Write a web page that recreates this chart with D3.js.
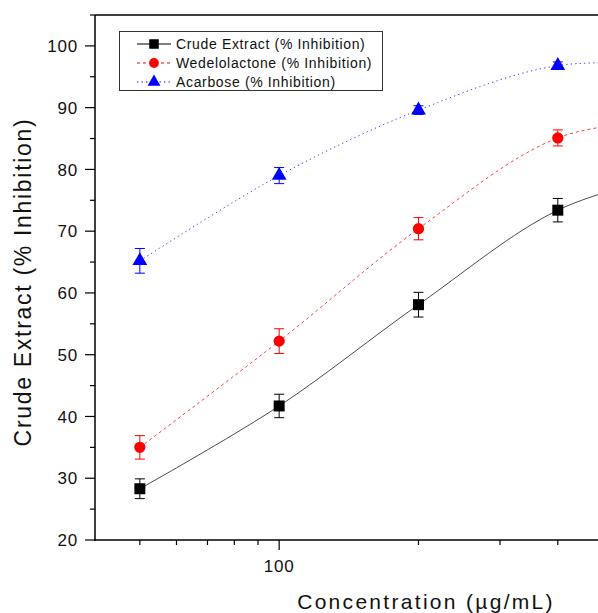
<!DOCTYPE html>
<html>
<head>
<script src="https://d3js.org/d3.v7.min.js"></script>
<style>
  html, body { margin: 0; padding: 0; background: #fff; }
  svg { display: block; font-family: "Liberation Sans", Arial, sans-serif; }
</style>
</head>
<body>
<svg id="chart" width="598" height="613"></svg>
<script>
// concentrations (ug/mL); the last one lies beyond the visible right edge
var conc = [50, 100, 200, 400, 800];
var crude = [28.3, 41.7, 58.1, 73.4, 80.0];
var crudeErr = [1.6, 1.9, 2.0, 1.9, 1.5];
var wedelo = [35.0, 52.2, 70.4, 85.1, 88.0];
var wedeloErr = [1.9, 2.0, 1.8, 1.3, 1.3];
var acarbose = [65.2, 79.0, 89.6, 96.8, 96.6];
var acarboseErr = [2.0, 1.3, 0.7, 0.6, 0.6];
var yTicks = [20, 30, 40, 50, 60, 70, 80, 90, 100];
var xMajor = [100, 1000];
var xLabels = [100];
var xMinor = [50, 60, 70, 80, 90, 200, 300, 400, 500, 600, 700, 800, 900];

var series = [
  {name: "Crude Extract (% Inhibition)", vals: crude, err: crudeErr, color: "#000", dash: null, shape: d3.symbolSquare, size: 121},
  {name: "Wedelolactone (% Inhibition)", vals: wedelo, err: wedeloErr, color: "#ff0000", dash: "3,3", shape: d3.symbolCircle, size: 100},
  {name: "Acarbose (% Inhibition)", vals: acarbose, err: acarboseErr, color: "#0000ff", dash: "1.3,3.2", shape: d3.symbolTriangle, size: 95}
];

var svg = d3.select("#chart");
var plotLeft = 95, plotTop = 15, plotBottom = 540;

var x = d3.scaleLog().domain([40, 1000]).range([plotLeft, plotLeft + 462.8 * Math.log10(25)]);
var y = d3.scaleLinear().domain([20, 105]).range([plotBottom, plotTop]);

svg.append("clipPath").attr("id", "plotclip")
  .append("rect").attr("x", plotLeft).attr("y", plotTop).attr("width", 800).attr("height", plotBottom - plotTop);

// frame: top border line
svg.append("line").attr("x1", plotLeft).attr("x2", 598).attr("y1", plotTop).attr("y2", plotTop)
  .attr("stroke", "#000").attr("stroke-width", 1.5);

// y axis
var yAxis = svg.append("g");
yAxis.append("line").attr("x1", plotLeft).attr("x2", plotLeft).attr("y1", plotTop).attr("y2", plotBottom + 0.75)
  .attr("stroke", "#000").attr("stroke-width", 1.5);
yAxis.selectAll(".ymaj").data(yTicks).enter().append("line")
  .attr("x1", plotLeft - 10).attr("x2", plotLeft).attr("y1", y).attr("y2", y)
  .attr("stroke", "#000").attr("stroke-width", 1.2);
yAxis.selectAll(".ymin").data(yTicks.map(function(d) { return d + 5; })).enter().append("line")
  .attr("x1", plotLeft - 5).attr("x2", plotLeft).attr("y1", y).attr("y2", y)
  .attr("stroke", "#000").attr("stroke-width", 1.2);
yAxis.selectAll("text").data(yTicks).enter().append("text")
  .attr("x", 78).attr("y", y).attr("dy", "0.36em")
  .attr("text-anchor", "end").attr("font-size", 17).attr("letter-spacing", 0.8)
  .attr("fill", "#111").text(function(d) { return d; });

// x axis
var xAxis = svg.append("g");
xAxis.append("line").attr("x1", plotLeft - 0.75).attr("x2", 598).attr("y1", plotBottom).attr("y2", plotBottom)
  .attr("stroke", "#000").attr("stroke-width", 1.5);
xAxis.selectAll(".xmaj").data(xMajor).enter().append("line")
  .attr("x1", x).attr("x2", x).attr("y1", plotBottom).attr("y2", plotBottom + 10)
  .attr("stroke", "#000").attr("stroke-width", 1.2);
xAxis.selectAll(".xmin").data(xMinor).enter().append("line")
  .attr("x1", x).attr("x2", x).attr("y1", plotBottom).attr("y2", plotBottom + 5)
  .attr("stroke", "#000").attr("stroke-width", 1.2);
xAxis.selectAll("text").data(xLabels).enter().append("text")
  .attr("x", x).attr("y", 572).attr("text-anchor", "middle")
  .attr("font-size", 17).attr("letter-spacing", 0.8).attr("fill", "#111")
  .text(function(d) { return d; });

// axis titles
svg.append("text").attr("transform", "translate(31,282) rotate(-90)")
  .attr("text-anchor", "middle").attr("font-size", 23).attr("letter-spacing", 1.7)
  .attr("fill", "#111").text("Crude Extract (% Inhibition)");
svg.append("text").attr("x", 426).attr("y", 609)
  .attr("text-anchor", "middle").attr("font-size", 21).attr("letter-spacing", 2.3)
  .attr("fill", "#111").text("Concentration (\u00b5g/mL)");

// data
var plot = svg.append("g").attr("clip-path", "url(#plotclip)");
var line = d3.line().curve(d3.curveCardinal.tension(0))
  .x(function(d) { return x(d[0]); }).y(function(d) { return y(d[1]); });

series.forEach(function(s) {
  var pts = conc.map(function(c, i) { return [c, s.vals[i], s.err[i]]; });
  plot.append("path").datum(pts).attr("d", line)
    .attr("fill", "none").attr("stroke", s.color).attr("stroke-width", 1)
    .attr("stroke-opacity", s.dash ? 0.75 : 0.7)
    .attr("stroke-dasharray", s.dash);
  var g = plot.selectAll(null).data(pts).enter().append("g");
  g.append("line").attr("x1", function(d) { return x(d[0]); }).attr("x2", function(d) { return x(d[0]); })
    .attr("y1", function(d) { return y(d[1] - d[2]); }).attr("y2", function(d) { return y(d[1] + d[2]); })
    .attr("stroke", s.color).attr("stroke-width", 1);
  [-1, 1].forEach(function(sg) {
    g.append("line").attr("x1", function(d) { return x(d[0]) - 5; }).attr("x2", function(d) { return x(d[0]) + 5; })
      .attr("y1", function(d) { return y(d[1] + sg * d[2]); }).attr("y2", function(d) { return y(d[1] + sg * d[2]); })
      .attr("stroke", s.color).attr("stroke-width", 1);
  });
  g.append("path").attr("d", d3.symbol().type(s.shape).size(s.size))
    .attr("transform", function(d) { return "translate(" + x(d[0]) + "," + y(d[1]) + ")"; })
    .attr("fill", s.color);
});

// legend
var legend = svg.append("g");
legend.append("rect").attr("x", 119.5).attr("y", 31.5).attr("width", 263).attr("height", 59)
  .attr("fill", "#fff").attr("stroke", "#333").attr("stroke-width", 1);
series.forEach(function(s, i) {
  var ly = 44 + i * 19;
  legend.append("line").attr("x1", 137).attr("x2", 171).attr("y1", ly).attr("y2", ly)
    .attr("stroke", s.color).attr("stroke-width", 1).attr("stroke-dasharray", s.dash);
  legend.append("path").attr("d", d3.symbol().type(s.shape).size(s.size * 0.75))
    .attr("transform", "translate(154," + ly + ")").attr("fill", s.color);
  legend.append("text").attr("x", 176).attr("y", ly + 5)
    .attr("font-size", 14).attr("letter-spacing", 0.65).attr("fill", "#111").text(s.name);
});
</script>
</body>
</html>
